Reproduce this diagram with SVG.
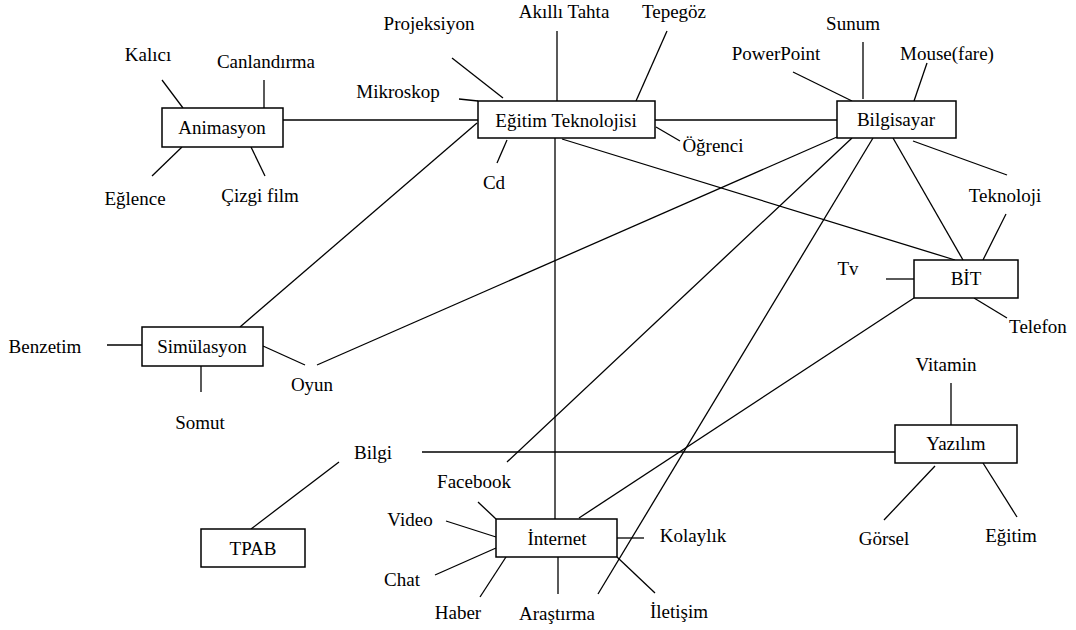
<svg xmlns="http://www.w3.org/2000/svg" width="1076" height="630" viewBox="0 0 1076 630">
  <style>
    .box { fill: #fff; stroke: #000; stroke-width: 1.5; }
    text { font-family: 'Liberation Serif', 'DejaVu Serif', serif; font-size: 19px; fill: #000; text-anchor: middle; }
    .edge { stroke: #000; stroke-width: 1.3; fill: none; stroke-linecap: butt; }
  </style>
  <rect width="1076" height="630" fill="#fff"/>

  <!-- connectors -->
  <g id="connectors" class="edge">
    <!-- Animasyon spokes -->
    <line x1="162" y1="80" x2="183" y2="108"/>
    <line x1="264" y1="80" x2="264" y2="108"/>
    <line x1="152" y1="176" x2="182" y2="147"/>
    <line x1="251" y1="147" x2="265" y2="176"/>
    <!-- hub links -->
    <line x1="283" y1="120" x2="478" y2="120"/>
    <line x1="655" y1="120" x2="837" y2="120"/>
    <line x1="477" y1="123" x2="240" y2="327"/>
    <line x1="555" y1="138" x2="555" y2="519"/>
    <line x1="562" y1="139" x2="955" y2="260"/>
    <!-- Eğitim Teknolojisi spokes -->
    <line x1="452" y1="58" x2="503" y2="98"/>
    <line x1="557" y1="31" x2="557" y2="101"/>
    <line x1="667" y1="31" x2="636" y2="101"/>
    <line x1="459" y1="99" x2="478" y2="101"/>
    <line x1="507" y1="140" x2="497" y2="163"/>
    <line x1="656" y1="127" x2="680" y2="141"/>
    <!-- Bilgisayar spokes -->
    <line x1="793" y1="72" x2="852" y2="101"/>
    <line x1="863" y1="42" x2="863" y2="99"/>
    <line x1="927" y1="63" x2="914" y2="101"/>
    <line x1="913" y1="141" x2="1007" y2="175"/>
    <line x1="837" y1="137" x2="317" y2="365"/>
    <line x1="852" y1="138" x2="507" y2="462"/>
    <line x1="873" y1="138" x2="598" y2="594"/>
    <line x1="893" y1="138" x2="963" y2="260"/>
    <!-- BİT spokes -->
    <line x1="1006" y1="214" x2="983" y2="260"/>
    <line x1="886" y1="279" x2="914" y2="279"/>
    <line x1="974" y1="298" x2="1007" y2="318"/>
    <line x1="914" y1="298" x2="579" y2="518"/>
    <!-- Yazılım spokes -->
    <line x1="951" y1="383" x2="951" y2="425"/>
    <line x1="422" y1="452" x2="895" y2="452"/>
    <line x1="935" y1="466" x2="884" y2="520"/>
    <line x1="983" y1="463" x2="1017" y2="517"/>
    <!-- TPAB -->
    <line x1="339" y1="462" x2="251" y2="529"/>
    <!-- Simülasyon spokes -->
    <line x1="107" y1="345" x2="142" y2="345"/>
    <line x1="201" y1="366" x2="201" y2="392"/>
    <line x1="263" y1="346" x2="305" y2="365"/>
    <!-- İnternet spokes -->
    <line x1="478" y1="502" x2="496" y2="519"/>
    <line x1="446" y1="521" x2="496" y2="537"/>
    <line x1="435" y1="575" x2="496" y2="548"/>
    <line x1="480" y1="597" x2="506" y2="557"/>
    <line x1="558" y1="557" x2="558" y2="594"/>
    <line x1="617" y1="538" x2="644" y2="538"/>
    <line x1="617" y1="557" x2="655" y2="593"/>
  </g>

  <!-- boxed concepts -->
  <g id="animasyon"><rect class="box" x="162" y="108" width="121" height="39"/><text x="222" y="134">Animasyon</text></g>
  <g id="egitim-teknolojisi"><rect class="box" x="478" y="101" width="177" height="37"/><text x="566" y="127">Eğitim Teknolojisi</text></g>
  <g id="bilgisayar"><rect class="box" x="837" y="101" width="119" height="37"/><text x="896" y="126">Bilgisayar</text></g>
  <g id="bit"><rect class="box" x="914" y="260" width="104" height="38"/><text x="966" y="285">BİT</text></g>
  <g id="simulasyon"><rect class="box" x="142" y="327" width="121" height="39"/><text x="202" y="353">Simülasyon</text></g>
  <g id="yazilim"><rect class="box" x="895" y="425" width="122" height="38"/><text x="956" y="450">Yazılım</text></g>
  <g id="tpab"><rect class="box" x="201" y="529" width="104" height="38"/><text x="253" y="555">TPAB</text></g>
  <g id="internet"><rect class="box" x="496" y="519" width="121" height="38"/><text x="557" y="545">İnternet</text></g>

  <!-- free-standing terms -->
  <g id="kalici"><text x="148" y="61">Kalıcı</text></g>
  <g id="canlandirma"><text x="266" y="68">Canlandırma</text></g>
  <g id="eglence"><text x="135" y="205">Eğlence</text></g>
  <g id="cizgi-film"><text x="260" y="202">Çizgi film</text></g>
  <g id="projeksiyon"><text x="429" y="30">Projeksiyon</text></g>
  <g id="akilli-tahta"><text x="564" y="18">Akıllı Tahta</text></g>
  <g id="tepegoz"><text x="674" y="18">Tepegöz</text></g>
  <g id="mikroskop"><text x="398" y="98">Mikroskop</text></g>
  <g id="cd"><text x="494" y="189">Cd</text></g>
  <g id="ogrenci"><text x="713" y="152">Öğrenci</text></g>
  <g id="sunum"><text x="853" y="30">Sunum</text></g>
  <g id="powerpoint"><text x="776" y="60">PowerPoint</text></g>
  <g id="mouse"><text x="947" y="60">Mouse(fare)</text></g>
  <g id="teknoloji"><text x="1005" y="202">Teknoloji</text></g>
  <g id="tv"><text x="848" y="275">Tv</text></g>
  <g id="telefon"><text x="1038" y="333">Telefon</text></g>
  <g id="vitamin"><text x="946" y="371">Vitamin</text></g>
  <g id="gorsel"><text x="884" y="545">Görsel</text></g>
  <g id="egitim"><text x="1011" y="542">Eğitim</text></g>
  <g id="benzetim"><text x="45" y="353">Benzetim</text></g>
  <g id="somut"><text x="200" y="429">Somut</text></g>
  <g id="oyun"><text x="312" y="391">Oyun</text></g>
  <g id="bilgi"><text x="373" y="459">Bilgi</text></g>
  <g id="facebook"><text x="474" y="488">Facebook</text></g>
  <g id="video"><text x="410" y="526">Video</text></g>
  <g id="chat"><text x="402" y="586">Chat</text></g>
  <g id="haber"><text x="458" y="619">Haber</text></g>
  <g id="kolaylik"><text x="693" y="542">Kolaylık</text></g>
  <g id="arastirma"><text x="557" y="620">Araştırma</text></g>
  <g id="iletisim"><text x="679" y="618">İletişim</text></g>
</svg>
